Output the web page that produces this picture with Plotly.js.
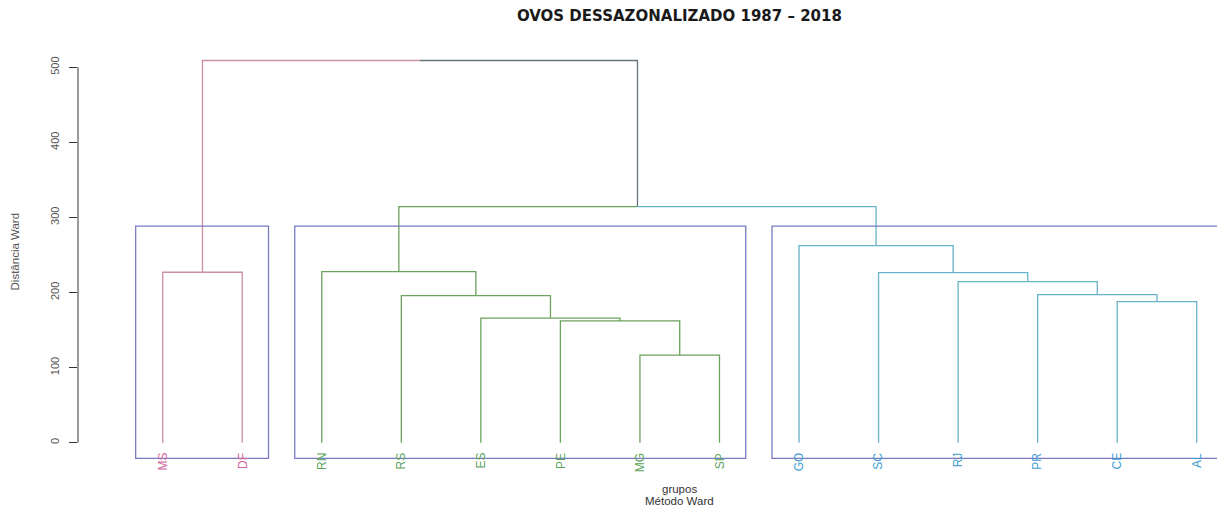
<!DOCTYPE html>
<html>
<head>
<meta charset="utf-8">
<script src="https://cdn.plot.ly/plotly-3.0.1.min.js"></script>
<style>
  html, body { margin: 0; padding: 0; background: #ffffff; }
  #chart { width: 1217px; height: 524px; }
</style>
</head>
<body>
<div id="chart"></div>
<script>
// Leaves in display order, with the cluster (k = 3) each one belongs to
const leafLabels = ['MS', 'DF', 'RN', 'RS', 'ES', 'PE', 'MG', 'SP', 'GO', 'SC', 'RJ', 'PR', 'CE', 'AL'];
const leafGroup  = [0, 0, 1, 1, 1, 1, 1, 1, 2, 2, 2, 2, 2, 2];

// Ward merges, hclust style: negative = leaf position (1-based), positive = earlier merge
const mergeLeft   = [-7, -6, -5, -13, -4, -12, -11, -10, -1, -3, -9, 10, 9];
const mergeRight  = [-8,  1,  2, -14,  3,   4,   6,   7, -2,  5,  8, 11, 12];
const mergeHeight = [116.6, 162.2, 165.8, 187.8, 195.9, 197.1, 214.4, 226.4, 227.0, 227.8, 262.4, 314.3, 509.0];

const yTicks = [0, 100, 200, 300, 400, 500];

// Styling
const groupLine  = ['#cc8fa8', '#6aa25e', '#68b2c8'];
const groupLabel = ['#d0649a', '#5aa55a', '#3e9dd0'];
const topLine = '#65737a';
const boxColor = '#7a7ac4';
const boxBottom = -21;

// Resolve a node reference to its x position, height and member leaves
const cache = {};
function node(ref) {
  if (ref < 0) {
    const p = -ref;
    return { x: p, h: 0, members: [p - 1] };
  }
  if (cache[ref]) return cache[ref];
  const a = node(mergeLeft[ref - 1]);
  const b = node(mergeRight[ref - 1]);
  const res = { x: (a.x + b.x) / 2, h: mergeHeight[ref - 1], members: a.members.concat(b.members) };
  cache[ref] = res;
  return res;
}

function colorKey(n) {
  const g = leafGroup[n.members[0]];
  return n.members.every(m => leafGroup[m] === g) ? g : 'top';
}

// Collect elbow segments by colour
const segs = { 0: { x: [], y: [] }, 1: { x: [], y: [] }, 2: { x: [], y: [] }, top: { x: [], y: [] } };
for (let i = 1; i <= mergeHeight.length; i++) {
  const parent = node(i);
  [mergeLeft[i - 1], mergeRight[i - 1]].forEach(ref => {
    const child = node(ref);
    const s = segs[colorKey(child)];
    s.x.push(parent.x, child.x, child.x, null);
    s.y.push(parent.h, parent.h, child.h, null);
  });
}

const traces = ['top', 0, 1, 2].map(k => ({
  type: 'scatter',
  mode: 'lines',
  x: segs[k].x,
  y: segs[k].y,
  line: { color: k === 'top' ? topLine : groupLine[k], width: 1.3 },
  hoverinfo: 'skip',
  showlegend: false
}));

// Cluster rectangles (rect.hclust placement)
const sortedH = mergeHeight.slice().sort((a, b) => b - a);
const boxTop = (sortedH[1] + sortedH[2]) / 2;
const shapes = [];
[0, 1, 2].forEach(g => {
  const pos = leafGroup.map((v, i) => v === g ? i + 1 : null).filter(v => v !== null);
  shapes.push({
    type: 'rect', xref: 'x', yref: 'y',
    x0: Math.min(...pos) - 0.34, x1: Math.max(...pos) + 0.33,
    y0: boxBottom, y1: boxTop,
    line: { color: boxColor, width: 1.3 },
    fillcolor: 'rgba(0,0,0,0)'
  });
});
// y axis line spanning the tick range only
shapes.push({
  type: 'line', xref: 'paper', yref: 'y',
  x0: 0, x1: 0, y0: yTicks[0], y1: yTicks[yTicks.length - 1],
  line: { color: '#333333', width: 1 }
});

const annotations = leafLabels.map((lab, i) => ({
  x: i + 1, y: 0, xref: 'x', yref: 'y',
  yshift: -8,
  text: lab,
  textangle: -90,
  xanchor: 'center', yanchor: 'top',
  showarrow: false,
  font: { family: 'Liberation Sans, Arial, sans-serif', size: 12, color: groupLabel[leafGroup[i]] }
}));

annotations.push(
  {
    xref: 'paper', yref: 'paper', x: -0.0549, y: 0.5,
    text: 'Distância Ward', textangle: -90,
    xanchor: 'center', yanchor: 'middle', showarrow: false,
    font: { family: 'Liberation Sans, Arial, sans-serif', size: 11.5, color: '#555555' }
  },
  {
    xref: 'paper', yref: 'paper', x: 0.5285, y: -0.064,
    text: 'grupos',
    xanchor: 'center', yanchor: 'middle', showarrow: false,
    font: { family: 'Liberation Sans, Arial, sans-serif', size: 11.5, color: '#333333' }
  },
  {
    xref: 'paper', yref: 'paper', x: 0.5285, y: -0.093,
    text: 'Método Ward',
    xanchor: 'center', yanchor: 'middle', showarrow: false,
    font: { family: 'Liberation Sans, Arial, sans-serif', size: 11.5, color: '#333333' }
  }
);

const layout = {
  width: 1217,
  height: 524,
  margin: { l: 78, r: 0, t: 40, b: 62 },
  paper_bgcolor: '#ffffff',
  plot_bgcolor: '#ffffff',
  font: { family: 'Liberation Sans, Arial, sans-serif', color: '#333333' },
  title: {
    text: '<b>OVOS DESSAZONALIZADO 1987 – 2018</b>',
    xref: 'paper', x: 0.528, xanchor: 'center',
    yref: 'container', y: 0.969, yanchor: 'middle',
    font: { family: 'DejaVu Sans, sans-serif', size: 15, color: '#1a1a1a' }
  },
  xaxis: {
    range: [-0.065, 14.255],
    showgrid: false, zeroline: false, showline: false,
    showticklabels: false, ticks: ''
  },
  yaxis: {
    range: [-25.7, 536.3],
    showgrid: false, zeroline: false, showline: false,
    ticks: 'outside', ticklen: 8, tickwidth: 1, tickcolor: '#333333',
    tickvals: yTicks, ticktext: yTicks.map(String),
    tickangle: -90,
    ticklabelstandoff: 6,
    tickfont: { family: 'Liberation Sans, Arial, sans-serif', size: 11, color: '#555555' }
  },
  shapes: shapes,
  annotations: annotations,
  showlegend: false
};

Plotly.newPlot('chart', traces, layout, { staticPlot: true, displayModeBar: false });
</script>
</body>
</html>
